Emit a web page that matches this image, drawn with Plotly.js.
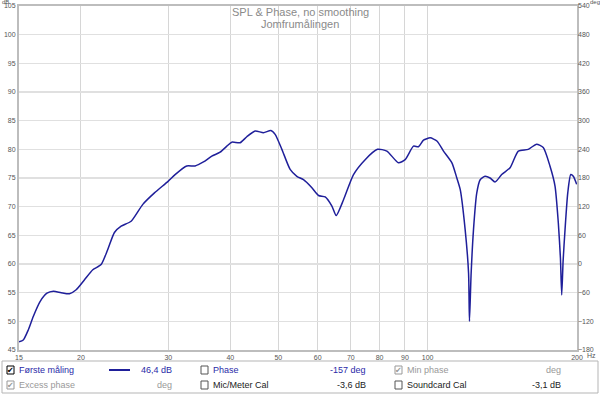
<!DOCTYPE html>
<html><head><meta charset="utf-8">
<script src="https://cdn.plot.ly/plotly-3.0.1.min.js"></script>
<style>html,body{margin:0;padding:0;background:#fff}#c{width:600px;height:394px}</style>
</head><body><div id="c"></div>
<script>
// Frequency (Hz) and SPL (dB)
const freqHz = [15.0,15.3,15.66,16.02,16.54,17.08,17.6,18.24,18.96,19.56,20.33,21.13,21.96,22.64,23.36,24.1,25.24,26.65,28.13,30.0,30.96,32.68,33.97,35.31,36.71,38.15,39.36,40.28,41.87,43.19,44.89,46.66,48.29,49.26,50.82,52.81,54.48,56.18,58.42,60.24,62.14,64.11,65.4,67.66,70.87,74.81,79.21,82.73,87.31,90.07,93.62,95.82,98.07,101.17,104.37,107.62,111.9,114.5,116.3,119.0,120.9,121.4,122.3,123.7,125.6,127.6,130.5,133.6,136.7,141.0,146.6,152.3,159.5,165.8,171.0,176.4,180.6,183.4,185.2,186.3,187.5,189.2,191.6,194.3,196.6,199.7];
const splDb = [46.45,46.75,48.5,50.8,53.45,54.9,55.25,55.0,54.8,55.5,57.25,59.0,59.9,62.5,65.5,66.6,67.45,70.4,72.4,74.45,75.6,77.1,77.1,77.8,78.8,79.5,80.55,81.25,81.15,82.2,83.2,82.9,83.3,82.6,80.0,76.5,75.3,74.7,73.3,71.95,71.7,70.1,68.45,71.2,75.6,78.2,80.0,79.7,77.65,78.2,80.55,80.45,81.6,82.0,81.45,79.7,77.65,75.0,73.0,66.0,58.4,50.0,58.0,66.0,72.4,74.7,75.3,75.0,74.3,75.6,76.8,79.7,80.0,80.9,80.3,77.1,73.6,67.15,61.0,54.6,60.5,66.0,72.4,75.6,75.3,73.9];
const xTicks = [15,20,30,40,50,60,70,80,90,100,200];
const xTickText = ['15','20','30','40','50','60','70','80','90','100','200'];
const dbTicks = [45,50,55,60,65,70,75,80,85,90,95,100,105];
const degTicks = [-180,-120,-60,0,60,120,180,240,300,360,420,480,540];

const L=19,R=577,T=6,B=350;
const px = x => (x-L)/(R-L);
const py = y => (B-y)/(B-T);
const blue='#2a2aa8';
const ann=[], shp=[];
const FF='Liberation Sans, Arial, sans-serif';
function txt(t,x,y,opt){ann.push(Object.assign({text:t,xref:'paper',yref:'paper',x:px(x),y:py(y),showarrow:false,xanchor:'left',yanchor:'middle',font:{family:FF,size:9,color:'#222'}},opt||{}));}
function box(x,y,checked,col){shp.push({type:'rect',xref:'paper',yref:'paper',x0:px(x),x1:px(x+7),y0:py(y+4),y1:py(y-4),line:{color:col||'#555',width:1},fillcolor:'#fff'});
  if(checked) txt('✔',x+3.5,y,{xanchor:'center',font:{family:'DejaVu Sans',size:8,color:col||'#000'}});}
// titles
txt('SPL &amp; Phase, no smoothing',300,12,{xanchor:'center',font:{family:FF,size:11,color:'#8a8a8a'}});
txt('Jomfrumålingen',300,24,{xanchor:'center',font:{family:FF,size:11,color:'#8a8a8a'}});
txt('dB',5,1.5,{xanchor:'center',font:{family:FF,size:6,color:'#555'}});
txt('deg',595,1.5,{xanchor:'center',font:{family:FF,size:6,color:'#555'}});
txt('Hz',585,355,{xanchor:'left',font:{family:FF,size:7,color:'#555'}});
// legend panel
shp.push({type:'rect',xref:'paper',yref:'paper',x0:px(2),x1:px(598),y0:py(393),y1:py(361),line:{color:'#b5b5b5',width:1},fillcolor:'rgba(0,0,0,0)'});
box(7,370,true,'#000'); txt('Første måling',17,370,{font:{family:FF,size:9,color:blue}});
shp.push({type:'line',xref:'paper',yref:'paper',x0:px(109),x1:px(130),y0:py(370),y1:py(370),line:{color:'#1f1f9a',width:2}});
txt('46,4 dB',174,370,{xanchor:'right',font:{family:FF,size:9,color:blue}});
box(7,385,true,'#999'); txt('Excess phase',17,385,{font:{family:FF,size:9,color:'#999'}});
txt('deg',174,385,{xanchor:'right',font:{family:FF,size:9,color:'#999'}});
box(201,370,false,'#555'); txt('Phase',211,370,{font:{family:FF,size:9,color:blue}});
txt('-157 deg',368,370,{xanchor:'right',font:{family:FF,size:9,color:blue}});
box(201,385,false,'#555'); txt('Mic/Meter Cal',211,385,{font:{family:FF,size:9,color:'#222'}});
txt('-3,6 dB',368,385,{xanchor:'right',font:{family:FF,size:9,color:'#222'}});
box(395,370,true,'#999'); txt('Min phase',405,370,{font:{family:FF,size:9,color:'#999'}});
txt('deg',563,370,{xanchor:'right',font:{family:FF,size:9,color:'#999'}});
box(395,385,false,'#555'); txt('Soundcard Cal',405,385,{font:{family:FF,size:9,color:'#222'}});
txt('-3,1 dB',563,385,{xanchor:'right',font:{family:FF,size:9,color:'#222'}});

const tf={family:FF,size:7,color:'#555'};
const data=[{x:freqHz,y:splDb,type:'scatter',mode:'lines',line:{color:'#1f1f9a',width:1.5,shape:'spline',smoothing:0.6},hoverinfo:'skip'},
 {x:[15,200],y:[-1000,-1000],yaxis:'y2',type:'scatter',mode:'lines',showlegend:false,hoverinfo:'skip'}];
const layout={width:600,height:394,margin:{l:L,r:600-R,t:T,b:394-B},paper_bgcolor:'#fff',plot_bgcolor:'#fff',showlegend:false,
 xaxis:{type:'log',range:[Math.log10(15),Math.log10(200)],tickvals:xTicks,ticktext:xTickText,tickfont:tf,ticks:'',gridcolor:'#d6d6d6',gridwidth:1,showline:true,linecolor:'#bdbdbd',linewidth:2,mirror:true,zeroline:false},
 yaxis:{range:[45,105],tickvals:dbTicks,tickfont:tf,ticks:'',gridcolor:'#e0e0e0',gridwidth:1.5,showline:true,linecolor:'#bdbdbd',linewidth:2,mirror:true,zeroline:false},
 yaxis2:{range:[-180,540],tickvals:degTicks,overlaying:'y',side:'right',tickfont:tf,ticks:'',showgrid:false,zeroline:false,showline:false},
 annotations:ann,shapes:shp};
Plotly.newPlot('c',data,layout,{staticPlot:true,displayModeBar:false});
</script></body></html>
